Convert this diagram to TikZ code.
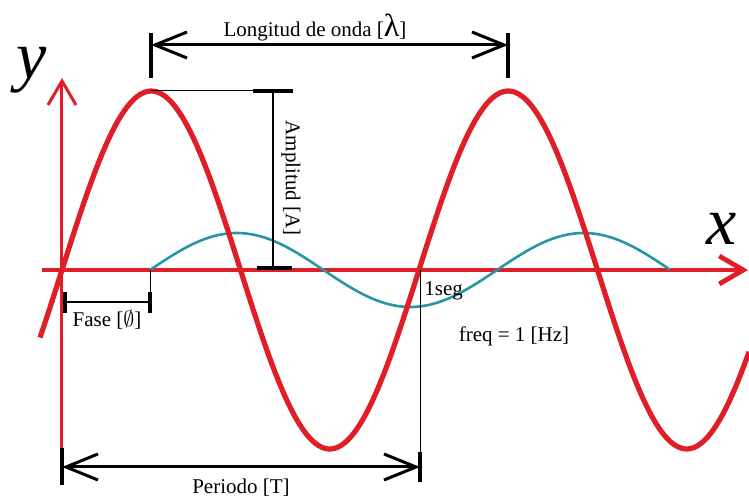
\documentclass[tikz,border=0pt]{standalone}
\usepackage{fontspec}
\setmainfont{Liberation Serif}
\usepackage{amsmath}
\usepackage{xcolor}
\usepackage{tikz}
\usetikzlibrary{arrows.meta,positioning}
\definecolor{sineRed}{RGB}{224,30,40}
\definecolor{phaseTeal}{RGB}{40,150,160}
\tikzset{
    axisArrow/.style={
        draw=sineRed,
        -{Straight Barb[length=12pt,width=14pt]}
    },
    waveMain/.style={
        sineRed,
        line width=2.6pt
    },
    waveShifted/.style={
        phaseTeal,
        line width=1.3pt
    },
    dimArrow/.style={
        {Straight Barb[length=16pt,width=13pt]}-{Straight Barb[length=16pt,width=13pt]},
        line width=1.5pt
    },
    dimTick/.style={
        line width=1.6pt
    },
    barTick/.style={
        line width=2.2pt
    },
    dimThin/.style={
        line width=0.5pt
    },
    dimLabel/.style={
        font=\fontsize{10.5}{12}\selectfont,
        inner sep=1pt
    },
    axisLabel/.style={
        font=\fontsize{34}{34}\selectfont\itshape,
        inner sep=0pt
    }
}

\begin{document}
\begin{tikzpicture}[x=0.5pt,y=0.5pt]
        \useasboundingbox (-62,-226) rectangle (687,270);

        % axes
        \coordinate (xStart) at (-20,0);
        \coordinate (xEnd) at (686,0);
        \coordinate (yStart) at (0,-178);
        \coordinate (yEnd) at (0,192);
        \draw[axisArrow,line width=2.4pt] (xStart) -- (xEnd);
        \draw[axisArrow,line width=1.5pt] (yStart) -- (yEnd);
        \node[axisLabel] (xLabel) at (660,41) {x};
        \node[axisLabel] (yLabel) at (-30,200) {y};

        % waves (360/347 = 1.03746, 360/357 = 1.00840)
        \draw[waveShifted,domain=88:608,samples=120,smooth] plot (\x,{37*sin(1.03746*(\x-88))});
        \draw[waveMain,domain=-22:687,samples=220,smooth] plot (\x,{179*sin(1.00840*\x)});

        % longitud de onda
        \coordinate (crestA) at (89,179);
        \coordinate (lamTickA1) at (89,192);
        \coordinate (lamTickA2) at (89,237);
        \coordinate (lamTickB1) at (446,192);
        \coordinate (lamTickB2) at (446,237);
        \coordinate (lamLeft) at (89,225);
        \coordinate (lamRight) at (446,225);
        \draw[dimTick] (lamTickA1) -- (lamTickA2);
        \draw[dimTick] (lamTickB1) -- (lamTickB2);
        \draw[dimArrow] (lamLeft) -- (lamRight);
        \node[dimLabel] (lamLabel) at (253,242) {Longitud de onda [{\fontsize{16}{16}\selectfont λ}]};

        % amplitud
        \coordinate (ampTopL) at (191,179);
        \coordinate (ampTopR) at (231,179);
        \coordinate (ampBotL) at (195,2);
        \coordinate (ampBotR) at (230,2);
        \coordinate (ampTop) at (211,179);
        \coordinate (ampBot) at (211,2);
        \draw[dimThin] (crestA) -- (ampTopL);
        \draw[barTick] (ampTopL) -- (ampTopR);
        \draw[barTick] (ampBotL) -- (ampBotR);
        \draw[line width=1.4pt] (ampTop) -- (ampBot);
        \node[dimLabel,rotate=-90] (ampLabel) at (229,92) {Amplitud [A]};

        % fase
        \coordinate (phaseStart) at (88,0);
        \coordinate (faseTickL1) at (3,-22);
        \coordinate (faseTickL2) at (3,-43);
        \coordinate (faseTickR1) at (88,-22);
        \coordinate (faseTickR2) at (88,-43);
        \coordinate (faseL) at (3,-32);
        \coordinate (faseR) at (88,-32);
        \coordinate (faseMid) at (45,-32);
        \draw[dimThin] (phaseStart) -- (faseTickR1);
        \draw[dimTick] (faseTickL1) -- (faseTickL2);
        \draw[dimTick] (faseTickR1) -- (faseTickR2);
        \draw[line width=1.3pt] (faseL) -- (faseR);
        \node[dimLabel,below=3pt of faseMid] (faseLabel) {Fase [$\emptyset$]};

        % periodo
        \coordinate (periodEnd) at (358,0);
        \coordinate (periodTickL2) at (0,-215);
        \coordinate (periodTickR1) at (358,-182);
        \coordinate (periodTickR2) at (358,-212);
        \coordinate (periodL) at (0,-197);
        \coordinate (periodR) at (358,-197);
        \coordinate (periodMid) at (179,-197);
        \draw[dimThin] (periodEnd) -- (periodTickR1);
        \draw[dimTick] (yStart) -- (periodTickL2);
        \draw[dimTick] (periodTickR1) -- (periodTickR2);
        \draw[dimArrow] (periodL) -- (periodR);
        \node[dimLabel,below=5pt of periodMid] (periodLabel) {Periodo [T]};

        \node[dimLabel,anchor=west] (secLabel) at (360,-21) {1seg};
        \node[dimLabel] (freqLabel) at (452,-66) {freq = 1 [Hz]};
    \end{tikzpicture}
\end{document}
